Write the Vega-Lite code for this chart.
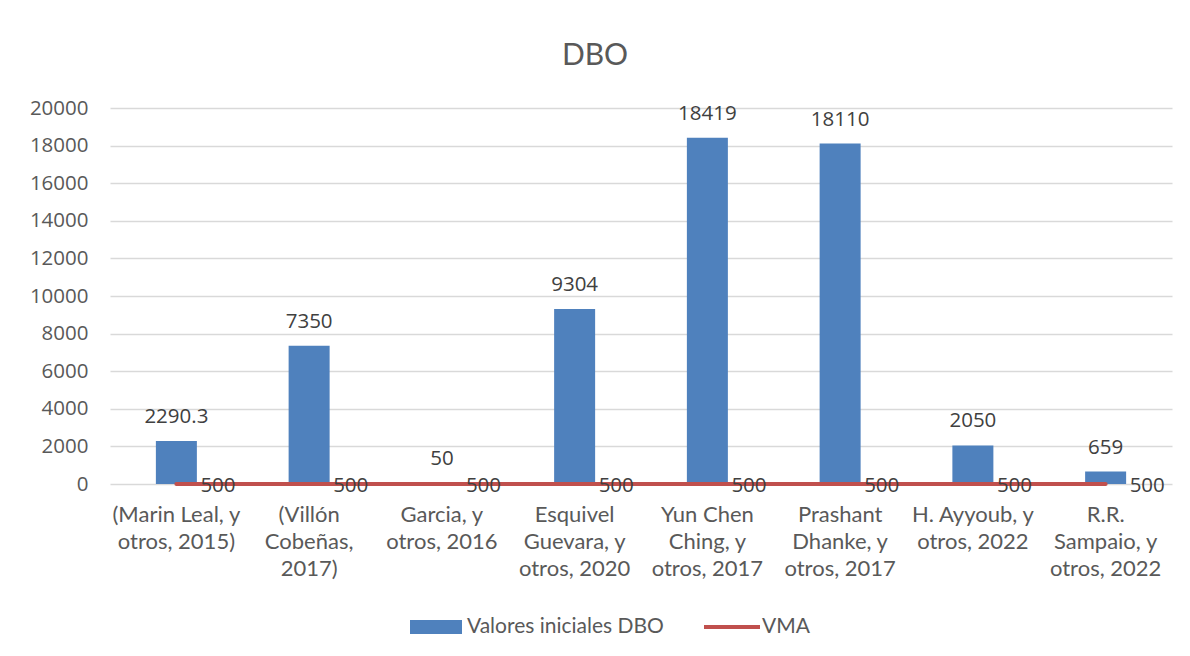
{
  "$schema": "https://vega.github.io/schema/vega-lite/v6.json",
  "width": 1062,
  "height": 376,
  "autosize": "none",
  "padding": {"left": 110, "top": 108, "right": 18, "bottom": 172},
  "background": "white",
  "title": {
    "text": "DBO",
    "font": "Lato",
    "fontSize": 30,
    "fontWeight": "normal",
    "color": "#595959",
    "anchor": "middle",
    "baseline": "alphabetic",
    "dx": -46,
    "dy": 31,
    "offset": 34
  },
  "config": {
    "view": {"stroke": null},
    "font": "Lato",
    "axisY": {
      "title": null,
      "values": [0, 2000, 4000, 6000, 8000, 10000, 12000, 14000, 16000, 18000, 20000],
      "format": "d",
      "labelFont": "Open Sans",
      "labelFontSize": 20.5,
      "labelColor": "#595959",
      "labelPadding": 22,
      "labelOverlap": false,
      "ticks": false,
      "domain": false,
      "grid": true,
      "gridColor": "#D9D9D9",
      "gridWidth": 1.5
    }
  },
  "data": {
    "values": [
      {"estudio": "(Marin Leal, y\notros, 2015)", "dbo": 2290.3, "dbo_etiqueta": "2290.3", "VMA": 0, "VMA_etiqueta": "500"},
      {"estudio": "(Villón\nCobeñas,\n2017)", "dbo": 7350, "dbo_etiqueta": "7350", "VMA": 0, "VMA_etiqueta": "500"},
      {"estudio": "Garcia, y\notros, 2016", "dbo": 50, "dbo_etiqueta": "50", "VMA": 0, "VMA_etiqueta": "500"},
      {"estudio": "Esquivel\nGuevara, y\notros, 2020", "dbo": 9304, "dbo_etiqueta": "9304", "VMA": 0, "VMA_etiqueta": "500"},
      {"estudio": "Yun Chen\nChing, y\notros, 2017", "dbo": 18419, "dbo_etiqueta": "18419", "VMA": 0, "VMA_etiqueta": "500"},
      {"estudio": "Prashant\nDhanke, y\notros, 2017", "dbo": 18110, "dbo_etiqueta": "18110", "VMA": 0, "VMA_etiqueta": "500"},
      {"estudio": "H. Ayyoub, y\notros, 2022", "dbo": 2050, "dbo_etiqueta": "2050", "VMA": 0, "VMA_etiqueta": "500"},
      {"estudio": "R.R.\nSampaio, y\notros, 2022", "dbo": 659, "dbo_etiqueta": "659", "VMA": 0, "VMA_etiqueta": "500"}
    ]
  },
  "encoding": {
    "x": {
      "field": "estudio",
      "type": "nominal",
      "sort": null,
      "scale": {"paddingInner": 0, "paddingOuter": 0},
      "axis": {
        "title": null,
        "labelAngle": 0,
        "labelExpr": "split(datum.label, '\\n')",
        "labelFont": "Lato",
        "labelFontSize": 22,
        "labelColor": "#595959",
        "labelLineHeight": 27,
        "labelBaseline": "top",
        "labelPadding": 20,
        "labelLimit": 300,
        "labelOverlap": false,
        "ticks": false,
        "domain": false,
        "grid": false
      }
    }
  },
  "layer": [
    {
      "mark": {"type": "bar", "size": 41},
      "encoding": {
        "y": {
          "field": "dbo",
          "type": "quantitative",
          "scale": {"domain": [0, 20000], "nice": false},
          "axis": {"values": [0, 2000, 4000, 6000, 8000, 10000, 12000, 14000, 16000, 18000, 20000]}
        },
        "fill": {
          "datum": "Valores iniciales DBO",
          "scale": {"range": ["#4F81BD"]},
          "legend": {
            "title": null,
            "orient": "none",
            "legendX": 300,
            "legendY": 493,
            "padding": 0,
            "symbolType": "M-1,-0.27H1V0.27H-1Z",
            "symbolSize": 2704,
            "symbolStrokeWidth": 0,
            "labelFont": "Lato",
            "labelFontSize": 21,
            "labelColor": "#595959",
            "labelOffset": 5,
            "labelLimit": 400
          }
        }
      }
    },
    {
      "mark": {"type": "text", "baseline": "alphabetic", "dy": -18, "font": "Open Sans", "fontSize": 20.5, "color": "#404040"},
      "encoding": {
        "y": {"field": "dbo", "type": "quantitative", "axis": {"values": [0, 2000, 4000, 6000, 8000, 10000, 12000, 14000, 16000, 18000, 20000]}},
        "text": {"field": "dbo_etiqueta"}
      }
    },
    {
      "mark": {"type": "line", "strokeWidth": 4, "strokeCap": "round"},
      "encoding": {
        "y": {"field": "VMA", "type": "quantitative", "axis": {"values": [0, 2000, 4000, 6000, 8000, 10000, 12000, 14000, 16000, 18000, 20000]}},
        "stroke": {
          "datum": "VMA",
          "scale": {"range": ["#C0504D"]},
          "legend": {
            "title": null,
            "orient": "none",
            "legendX": 592,
            "legendY": 489,
            "padding": 0,
            "symbolType": "stroke",
            "symbolSize": 3136,
            "symbolStrokeWidth": 4,
            "labelFont": "Lato",
            "labelFontSize": 21,
            "labelColor": "#595959",
            "labelOffset": 0,
            "labelLimit": 400
          }
        }
      }
    },
    {
      "mark": {"type": "text", "align": "left", "baseline": "middle", "dx": 24, "dy": 2, "font": "Open Sans", "fontSize": 20.5, "color": "#404040"},
      "encoding": {
        "y": {"field": "VMA", "type": "quantitative", "axis": {"values": [0, 2000, 4000, 6000, 8000, 10000, 12000, 14000, 16000, 18000, 20000]}},
        "text": {"field": "VMA_etiqueta"}
      }
    }
  ]
}
